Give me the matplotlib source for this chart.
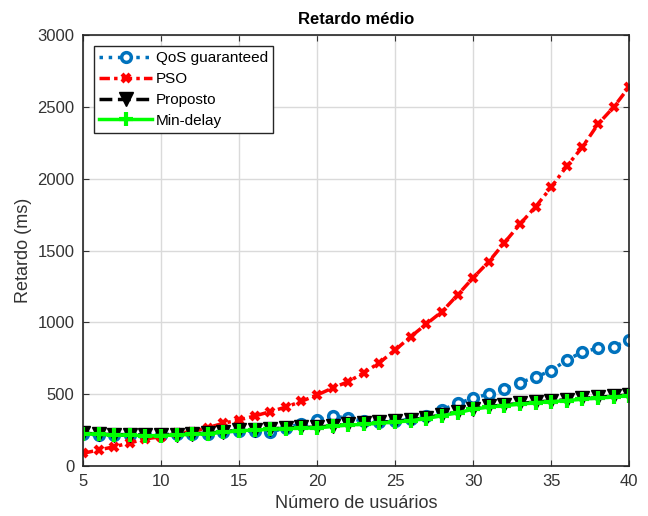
import matplotlib
matplotlib.use("Agg")
import matplotlib.pyplot as plt

plt.rcParams['font.family'] = ['Liberation Sans', 'DejaVu Sans']

usuarios = list(range(5, 41))

qos_guaranteed = [225, 215, 215, 215, 215, 215, 225, 225, 225, 235,
                  245, 240, 235, 265, 295, 320, 345, 335, 310, 305,
                  310, 325, 350, 390, 435, 471, 501, 536, 580, 619,
                  663, 738, 793, 820, 830, 877]

pso = [88, 111, 134, 160, 188, 204, 227, 239, 267, 297,
       320, 348, 378, 410, 450, 494, 543, 587, 649, 719,
       807, 900, 988, 1074, 1190, 1310, 1422, 1554, 1684, 1805,
       1940, 2088, 2220, 2380, 2498, 2640]

proposto = [228, 222, 218, 218, 214, 215, 218, 224, 228, 238,
            248, 253, 258, 264, 268, 270, 280, 290, 296, 303,
            310, 320, 336, 356, 376, 400, 414, 425, 435, 445,
            453, 461, 470, 478, 486, 495]

min_delay = [225, 220, 215, 215, 210, 212, 215, 220, 225, 235,
             245, 250, 255, 260, 263, 265, 275, 285, 290, 298,
             305, 315, 330, 350, 370, 395, 410, 420, 430, 440,
             448, 455, 465, 472, 480, 490]

fig = plt.figure(figsize=(6.48, 5.16), dpi=100)
ax = fig.add_axes([0.128, 0.097, 0.843, 0.835])

ax.plot(usuarios, qos_guaranteed, linestyle=':', color='#0072BD', linewidth=2.5,
        marker='o', markersize=7, markerfacecolor='white', markeredgewidth=2.5,
        label='QoS guaranteed')
ax.plot(usuarios, pso, color='#FF0000', linewidth=2.5, dashes=(3, 1.2, 1, 1.2),
        marker='x', markersize=6, markeredgewidth=3, label='PSO')
ax.plot(usuarios, proposto, linestyle='--', color='black', linewidth=2.5,
        marker='v', markersize=10, label='Proposto')
ax.plot(usuarios, min_delay, linestyle='-', color='#00FF00', linewidth=2.5,
        marker='+', markersize=10, markeredgewidth=3, label='Min-delay')

ax.set_xlim(5, 40)
ax.set_ylim(0, 3000)
ax.set_xticks(range(5, 41, 5))
ax.set_yticks(range(0, 3001, 500))
ax.grid(True, color='#DADADA', linewidth=1)
ax.set_axisbelow(True)
ax.tick_params(direction='in', top=True, right=True, labelsize=12,
               colors='#333333', length=4, pad=6)
for s in ax.spines.values():
    s.set_color('#262626')
    s.set_linewidth(1.2)

ax.set_title('Retardo médio', fontsize=12, fontweight='bold', color='black', pad=8)
ax.set_xlabel('Número de usuários', fontsize=13, color='#333333')
ax.set_ylabel('Retardo (ms)', fontsize=13, color='#333333')

leg = ax.legend(loc='upper left', fontsize=11, fancybox=False, framealpha=1,
                edgecolor='#262626', handlelength=3.5, borderpad=0.35,
                labelspacing=0.45, handletextpad=0.2, borderaxespad=0.7)
leg.get_frame().set_linewidth(1)

fig.savefig('out.png', dpi=100)
